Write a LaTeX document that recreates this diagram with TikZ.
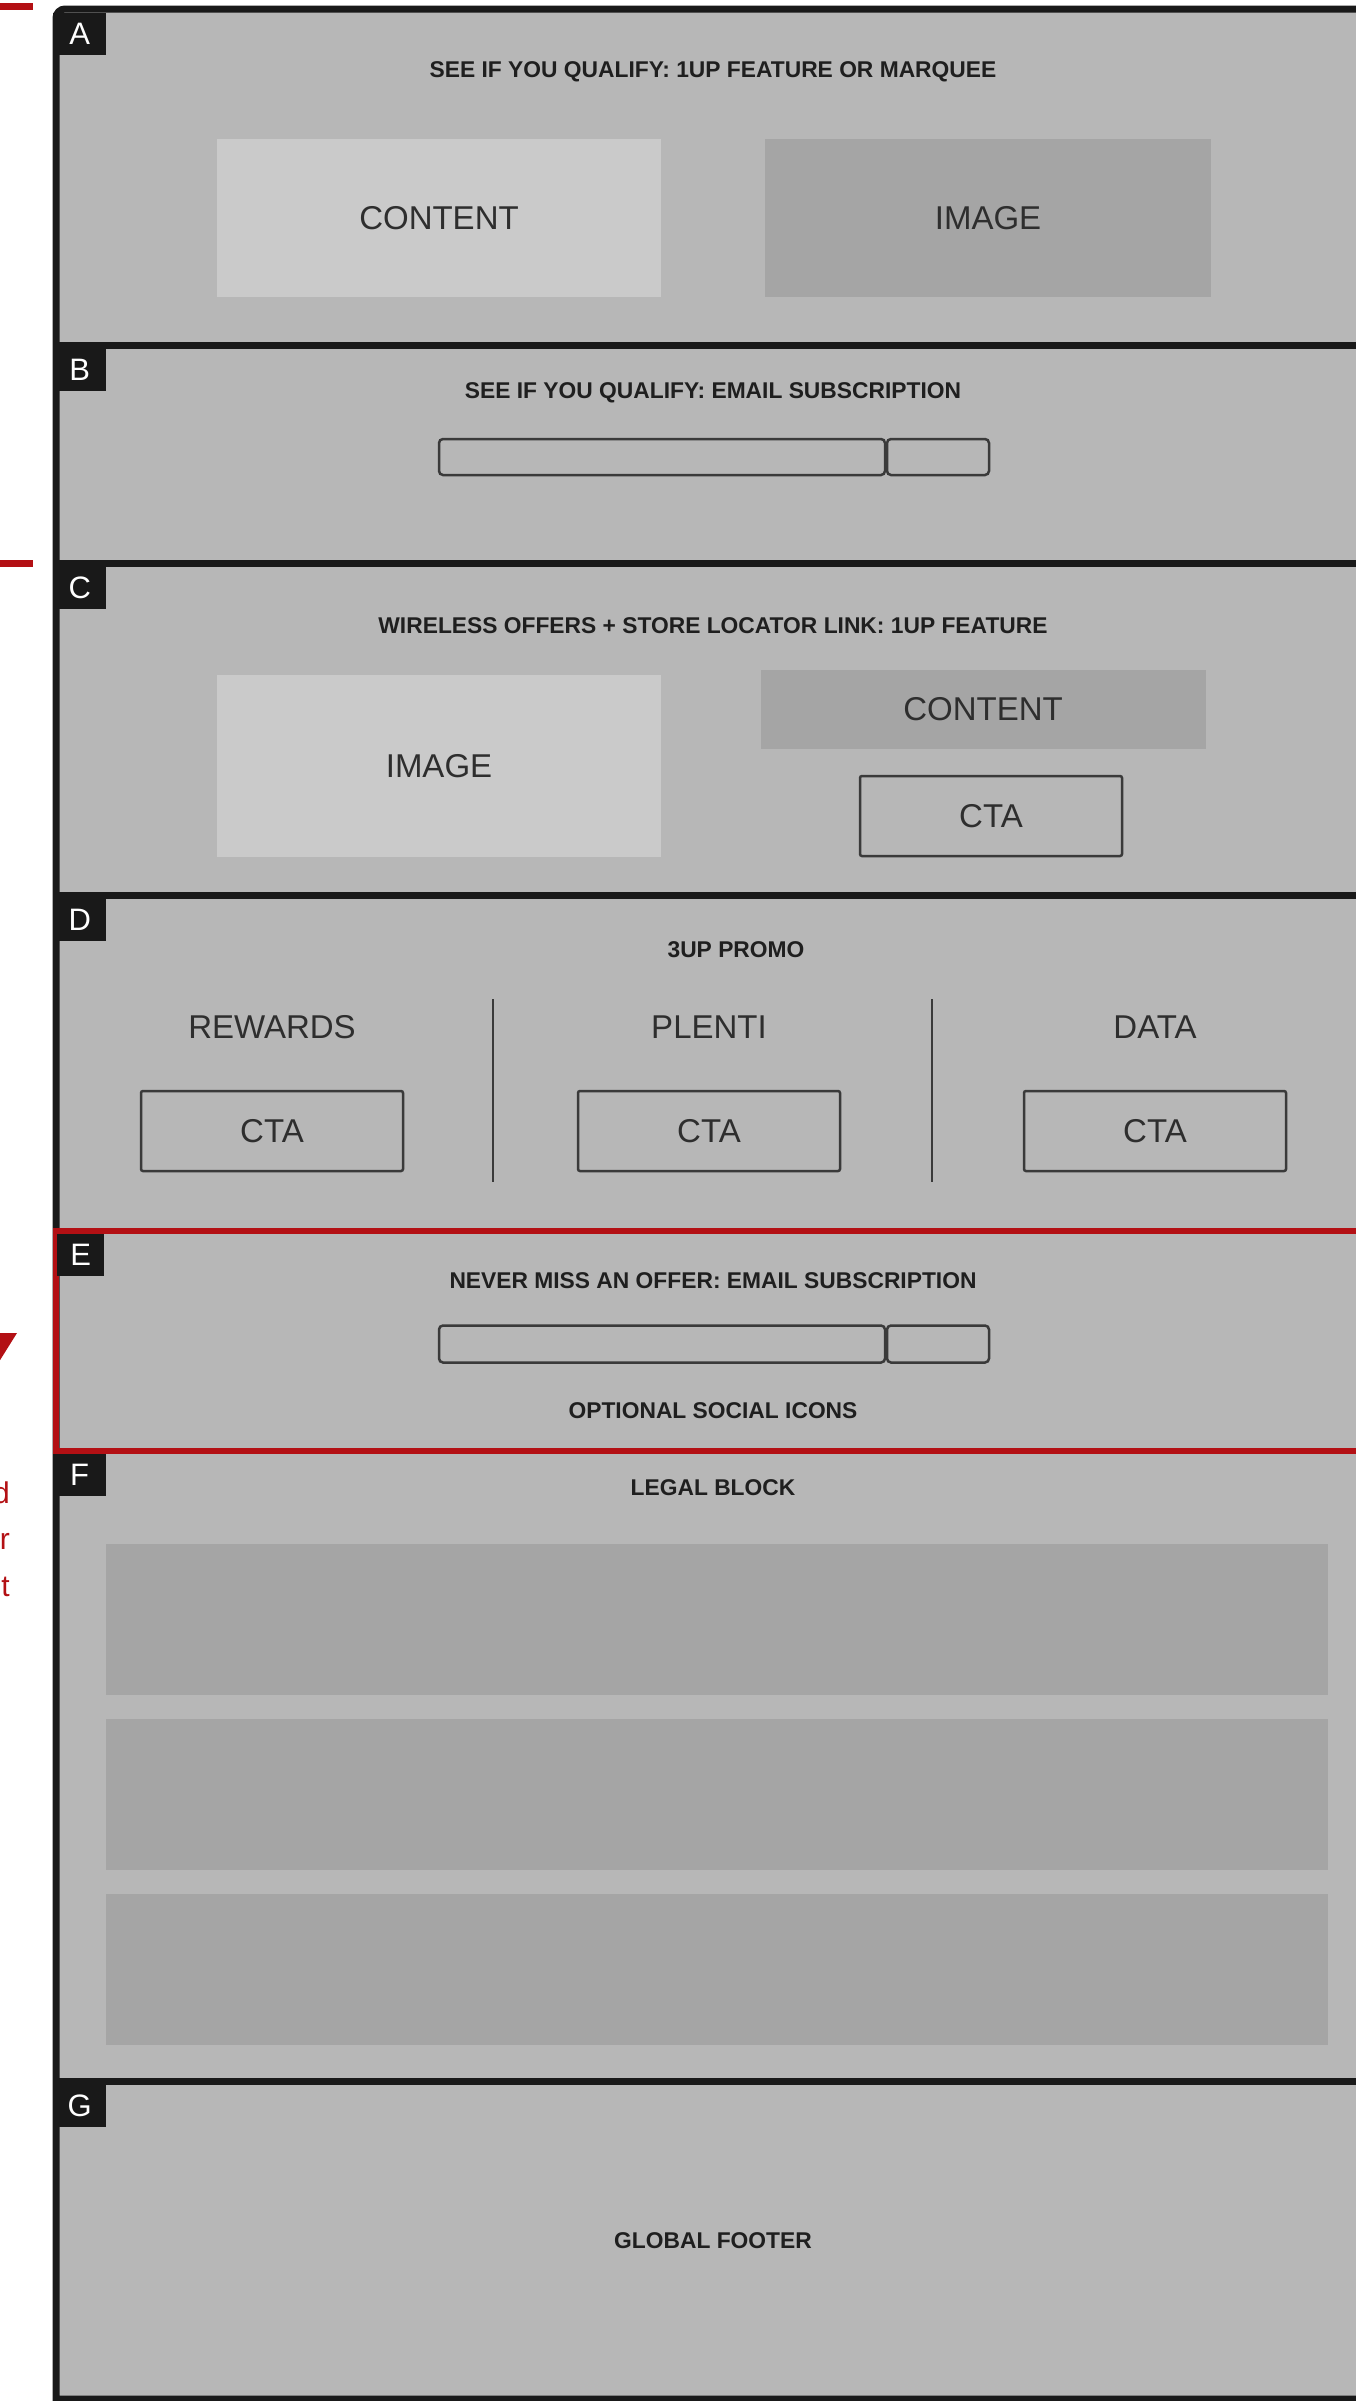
\documentclass[tikz,border=0pt]{standalone}
\usepackage{fontspec}
\setmainfont{Liberation Sans}
\usetikzlibrary{positioning}
\definecolor{panelGray}{HTML}{B7B7B7}
\definecolor{paleGray}{HTML}{CACACA}
\definecolor{dimGray}{HTML}{A5A5A5}
\definecolor{lineGray}{HTML}{3A3A3A}
\definecolor{markRed}{HTML}{B31014}

\begin{document}
\begin{tikzpicture}[x=1pt,y=-1pt,
  rim/.style={draw=black!90,line width=7pt},
  tag/.style={fill=black!90,text=white,anchor=north west,inner sep=0pt,
    minimum width=53pt,minimum height=42pt,font=\fontsize{31}{31}\selectfont},
  heading/.style={text=black!88,inner sep=0pt,font=\fontsize{22.8}{26}\selectfont\bfseries},
  bodytext/.style={text=black!82,inner sep=0pt,font=\fontsize{33}{38}\selectfont},
  pale/.style={bodytext,fill=paleGray},
  dim/.style={bodytext,fill=dimGray},
  cta/.style={bodytext,draw=lineGray,line width=2.5pt,rounded corners=2pt,
    minimum width=262pt,minimum height=80pt},
  field/.style={draw=lineGray,line width=2.5pt,rounded corners=4pt,
    minimum height=36pt,inner sep=0pt},
  note/.style={text=markRed,anchor=base east,inner sep=0pt,font=\fontsize{30}{30}\selectfont}
]
  \useasboundingbox (0,0) rectangle (1356,2401);
  \clip (0,0) rectangle (1356,2401);

  \fill[panelGray] (56,9) rectangle (1400,2399);

  % A
  \node[heading] (titleA) at (713,72) {SEE IF YOU QUALIFY: 1UP FEATURE OR MARQUEE};
  \node[pale,minimum width=444pt,minimum height=158pt] (contentA) at (439,218) {CONTENT};
  \node[dim,minimum width=446pt,minimum height=158pt] (imageA) at (988,218) {IMAGE};

  % B
  \node[heading] (titleB) at (713,393) {SEE IF YOU QUALIFY: EMAIL SUBSCRIPTION};
  \node[field,minimum width=446pt] (inputB) at (662,457) {};
  \node[field,minimum width=102pt] (sendB) at (938,457) {};

  % C
  \node[heading] (titleC) at (713,626) {WIRELESS OFFERS + STORE LOCATOR LINK: 1UP FEATURE};
  \node[pale,minimum width=444pt,minimum height=182pt] (imageC) at (439,766) {IMAGE};
  \node[dim,minimum width=445pt,minimum height=79pt] (contentC) at (983,709) {CONTENT};
  \node[cta] (ctaC) at (991,816) {CTA};

  % D
  \node[heading] (titleD) at (736,950) {3UP PROMO};
  \foreach \name/\xx/\id in {REWARDS/272/rewards,PLENTI/709/plenti,DATA/1155/data}{
    \node[bodytext] (\id) at (\xx,1027) {\name};
    \node[cta] (\id-cta) at (\xx,1131) {CTA};
  }
  \draw[lineGray,line width=2pt] (493,999) -- (493,1182);
  \draw[lineGray,line width=2pt] (932,999) -- (932,1182);

  % E
  \node[heading] (titleE) at (713,1281) {NEVER MISS AN OFFER: EMAIL SUBSCRIPTION};
  \node[field,minimum width=446pt,minimum height=37pt] (inputE) at (662,1344) {};
  \node[field,minimum width=102pt,minimum height=37pt] (sendE) at (938,1344) {};
  \node[heading] (social) at (713,1411) {OPTIONAL SOCIAL ICONS};

  % F
  \node[heading] (legal) at (713,1488) {LEGAL BLOCK};
  \foreach \yy [count=\i] in {1619,1794,1969}
    \node[dim,minimum width=1222pt,minimum height=151pt] (legal\i) at (717,\yy) {};

  % G
  \node[heading] (footer) at (713,2241) {GLOBAL FOOTER};

  % frame and dividers
  \draw[rim] (1400,2399) -- (56,2399) -- (56,200) {[rounded corners=9pt] -- (56,9) -- (1400,9)};
  \foreach \yy in {345,563,895,2081}
    \draw[rim] (56,\yy) -- (1400,\yy);
  \draw[markRed,line width=6pt] (1400,1231) -- (56,1231) -- (56,1451) -- (1400,1451);

  \foreach \t/\yy in {A/13,B/349,C/567,D/899,F/1454,G/2085}
    \node[tag] (tag\t) at (53,\yy) {\t};
  \node[tag,minimum width=47pt] (tagE) at (57,1234) {E};

  % red marks at the left edge
  \draw[markRed,line width=7pt] (0,6) -- (33,6);
  \draw[markRed,line width=7pt] (0,563) -- (33,563);
  \fill[markRed] (-24,1333) -- (17,1333) -- (-3,1365) -- cycle;
  \foreach \ch/\yy [count=\i] in {d/1503,r/1549,t/1596}
    \node[note] (note\i) at (10,\yy) {\ch};
\end{tikzpicture}
\end{document}
